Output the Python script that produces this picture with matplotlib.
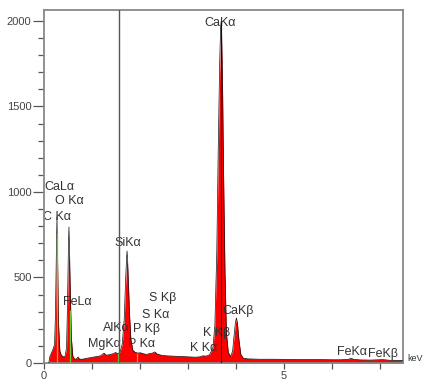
import matplotlib
matplotlib.use("Agg")
import matplotlib.pyplot as plt
from matplotlib.ticker import MultipleLocator, FixedLocator

plt.rcParams['font.family'] = ['Liberation Sans', 'DejaVu Sans']

# Spectrum (energy in keV, counts)
energy = [0.10, 0.12, 0.15, 0.18, 0.20, 0.22, 0.24, 0.26, 0.27, 0.28, 0.30, 0.33, 0.36,
          0.40, 0.44, 0.47, 0.49, 0.51, 0.52, 0.53, 0.55, 0.57, 0.60, 0.64, 0.68, 0.71,
          0.74, 0.80, 0.90, 1.00, 1.10, 1.18, 1.25, 1.30, 1.38, 1.45, 1.49, 1.53, 1.58,
          1.63, 1.67, 1.70, 1.72, 1.73, 1.74, 1.76, 1.78, 1.81, 1.85, 1.90, 1.96, 2.01,
          2.06, 2.13, 2.20, 2.26, 2.31, 2.36, 2.45, 2.55, 2.70, 2.85, 3.00, 3.15, 3.25,
          3.31, 3.38, 3.45, 3.52, 3.56, 3.60, 3.63, 3.66, 3.68, 3.69, 3.70, 3.72, 3.74,
          3.77, 3.80, 3.84, 3.89, 3.93, 3.96, 3.99, 4.01, 4.03, 4.06, 4.10, 4.15, 4.25,
          4.50, 4.80, 5.10, 5.40, 5.70, 6.00, 6.20, 6.35, 6.40, 6.45, 6.60, 6.80, 7.06,
          7.20, 7.48]
counts_line = [0, 35, 55, 75, 90, 110, 300, 700, 854, 700, 250, 70, 45,
               35, 40, 90, 350, 700, 795, 700, 400, 150, 40, 20, 25, 35,
               22, 22, 28, 33, 38, 42, 58, 45, 50, 55, 62, 55, 60,
               110, 250, 480, 610, 655, 620, 470, 300, 140, 75, 62, 58, 60,
               55, 50, 55, 58, 65, 52, 45, 42, 40, 38, 36, 34, 36,
               42, 40, 48, 90, 220, 650, 1250, 1750, 1960, 1995, 1960, 1650, 1150,
               550, 180, 60, 38, 70, 160, 240, 263, 235, 140, 50, 28, 24,
               22, 22, 21, 20, 20, 19, 19, 22, 28, 21, 18, 17, 20,
               16, 15]
counts_fill = [0, 40, 60, 80, 95, 110, 290, 640, 760, 640, 240, 72, 48,
               38, 42, 88, 330, 600, 643, 600, 380, 145, 42, 24, 28, 36,
               25, 26, 30, 35, 40, 44, 58, 47, 52, 57, 62, 57, 62,
               108, 240, 450, 570, 600, 580, 450, 290, 138, 76, 64, 60, 62,
               57, 52, 57, 60, 66, 54, 47, 44, 42, 40, 38, 36, 38,
               44, 42, 50, 90, 215, 630, 1200, 1680, 1880, 1910, 1880, 1600, 1120,
               540, 178, 62, 40, 70, 155, 235, 255, 228, 138, 52, 30, 26,
               24, 24, 23, 22, 22, 21, 21, 24, 28, 23, 20, 19, 21,
               18, 17]

# Element marker lines (energy keV, height counts)
marker_energy = [0.265, 0.54, 1.55, 1.94]
marker_height = [760, 310, 60, 60]
marker_color = ['#66cc33', '#66cc33', '#66cc33', '#aaaa22']

cursor_energy = 1.5625
ca_line_energy = 3.69
ca_line_height = 1995

# Peak labels: text, energy, counts
label_text = ['CaLα', 'O Kα', 'C Kα', 'SiKα', 'FeLα', 'S Kβ', 'S Kα', 'AlKα', 'P Kβ',
              'MgKα', 'P Kα', 'K Kα', 'K Kβ', 'CaKβ', 'CaKα', 'FeKα', 'FeKβ']
label_x = [0.00, 0.23, -0.02, 1.46, 0.40, 2.19, 2.04, 1.23, 1.85,
           0.92, 1.75, 3.04, 3.31, 3.71, 3.35, 6.10, 6.75]
label_y = [1028, 946, 853, 701, 356, 380, 280, 204, 199,
           111, 111, 88, 175, 304, 1986, 64, 53]

y_tick_labels = ['0', '500', '1000', '1500', '2000']
y_tick_values = [0, 500, 1000, 1500, 2000]
x_tick_values = [0, 5]
x_tick_labels = ['0', '5']

fig = plt.figure(figsize=(4.25, 3.81), dpi=100)
ax = fig.add_axes([44/425, 1-363/381, (403-44)/425, (363-10)/381])

ax.fill_between(energy, 0, counts_fill, color='#ff0000', lw=0, zorder=2)

for t, x, y in zip(label_text, label_x, label_y):
    ax.text(x, y, t, ha='left', va='center', fontsize=9, color='#333333',
            clip_on=False, zorder=2.5)
ax.text(7.58, 29, 'keV', ha='left', va='center', fontsize=6.5, color='#333333',
        clip_on=False)

ax.plot(energy, counts_line, color='#111111', lw=0.5, zorder=3)
ax.vlines(marker_energy, 0, marker_height, colors=marker_color, lw=0.9, zorder=4)
ax.vlines([ca_line_energy], 0, [ca_line_height], colors='#330000', lw=0.8, zorder=4)
ax.axvline(cursor_energy, color='#555555', lw=1.0, zorder=5)

ax.set_xlim(0, 7.48)
ax.set_ylim(0, 2064)

ax.yaxis.set_major_locator(FixedLocator(y_tick_values))
ax.set_yticklabels(y_tick_labels)
ax.yaxis.set_minor_locator(MultipleLocator(100))
ax.xaxis.set_major_locator(FixedLocator(x_tick_values))
ax.set_xticklabels(x_tick_labels)
ax.xaxis.set_minor_locator(MultipleLocator(1))

ax.tick_params(axis='y', which='major', length=8, width=0.9, color='#555555',
               labelsize=8, labelcolor='#444444', pad=1)
ax.tick_params(axis='y', which='minor', length=4, width=0.9, color='#555555')
ax.tick_params(axis='x', which='major', length=4, width=0.9, color='#555555',
               labelsize=8, labelcolor='#444444', pad=2)
ax.tick_params(axis='x', which='minor', length=4, width=0.9, color='#555555')

for s in ax.spines.values():
    s.set_color('#888888')
    s.set_linewidth(1.3)

fig.savefig('out.png', dpi=100)
